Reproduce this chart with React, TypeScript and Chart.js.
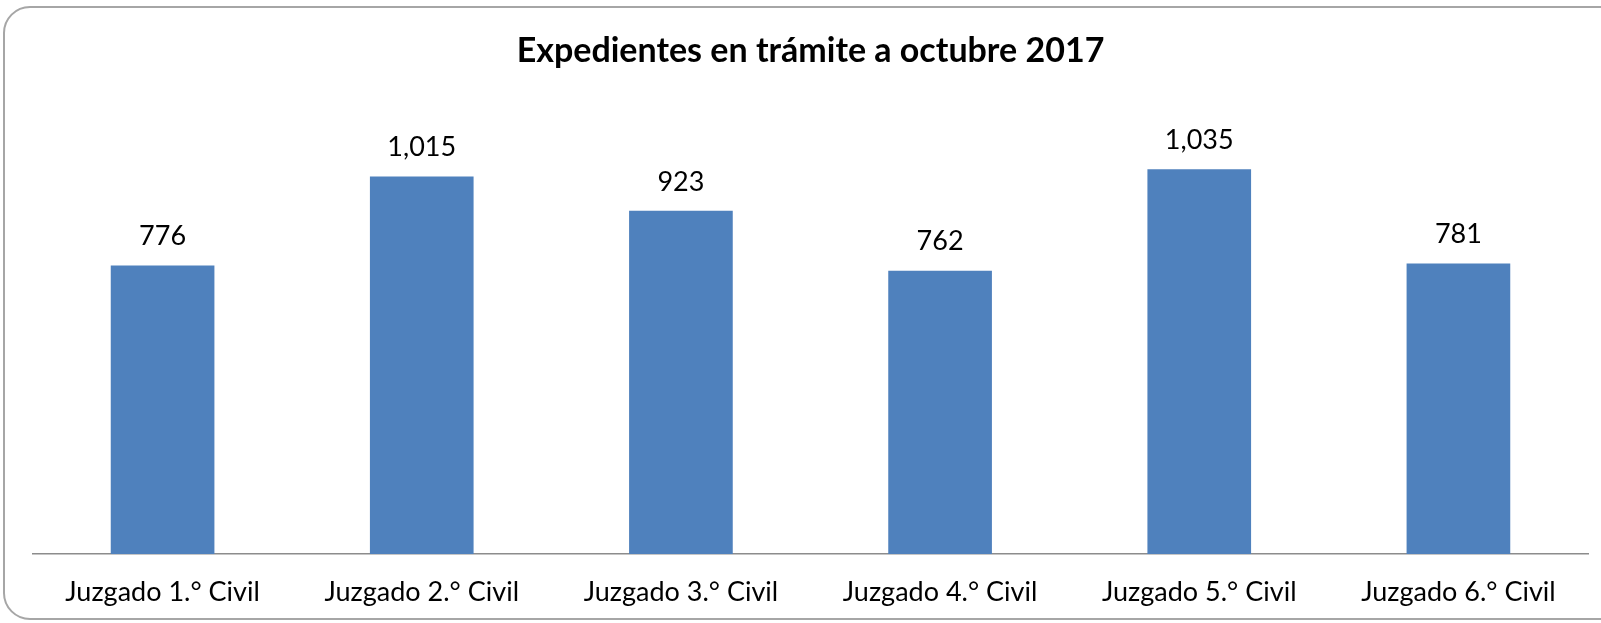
import React, { useEffect, useRef } from "react";
import { Chart, registerables } from "chart.js";

Chart.register(...registerables);

const categories = [
  "Juzgado 1.° Civil",
  "Juzgado 2.° Civil",
  "Juzgado 3.° Civil",
  "Juzgado 4.° Civil",
  "Juzgado 5.° Civil",
  "Juzgado 6.° Civil",
];
const expedientes = [776, 1015, 923, 762, 1035, 781];
const chartTitle = "Expedientes en trámite a octubre 2017";
const yMax = 1200;

const FONT = "Lato, 'Open Sans', sans-serif";

const framePlugin = {
  id: "frame",
  beforeDraw(chart: any) {
    const ctx = chart.ctx;
    const x = 4, y = 7, w = 1640, h = 612, r = 26;
    ctx.save();
    ctx.fillStyle = "#ffffff";
    ctx.fillRect(0, 0, chart.width, chart.height);
    ctx.beginPath();
    ctx.moveTo(x + r, y);
    ctx.lineTo(x + w - r, y);
    ctx.arcTo(x + w, y, x + w, y + r, r);
    ctx.lineTo(x + w, y + h - r);
    ctx.arcTo(x + w, y + h, x + w - r, y + h, r);
    ctx.lineTo(x + r, y + h);
    ctx.arcTo(x, y + h, x, y + h - r, r);
    ctx.lineTo(x, y + r);
    ctx.arcTo(x, y, x + r, y, r);
    ctx.closePath();
    ctx.strokeStyle = "#a6a6a6";
    ctx.lineWidth = 2;
    ctx.stroke();
    ctx.restore();
  },
};

const valueLabelPlugin = {
  id: "valueLabels",
  afterDatasetsDraw(chart: any) {
    const ctx = chart.ctx;
    const meta = chart.getDatasetMeta(0);
    const data = chart.data.datasets[0].data as number[];
    ctx.save();
    ctx.fillStyle = "#000000";
    ctx.font = `27px ${FONT}`;
    ctx.textAlign = "center";
    ctx.textBaseline = "middle";
    meta.data.forEach((bar: any, i: number) => {
      ctx.fillText(data[i].toLocaleString("en-US"), bar.x, bar.y - 29);
    });
    ctx.restore();
  },
};

export default function App() {
  const ref = useRef<HTMLCanvasElement | null>(null);
  useEffect(() => {
    document.body.style.margin = "0";
    if (!ref.current) return;
    const chart = new Chart(ref.current, {
      type: "bar",
      data: {
        labels: categories,
        datasets: [
          {
            data: expedientes,
            backgroundColor: "#4F81BD",
            borderWidth: 0,
            barPercentage: 0.4,
            categoryPercentage: 1,
          },
        ],
      },
      options: {
        animation: false,
        responsive: false,
        maintainAspectRatio: false,
        layout: { padding: { left: 33, right: 13, top: 0, bottom: 16 } },
        plugins: {
          legend: { display: false },
          tooltip: { enabled: false },
          title: {
            display: true,
            text: chartTitle,
            color: "#000000",
            font: { family: FONT, size: 34, weight: "bold", lineHeight: 1.2 },
            padding: { top: 31, bottom: 36 },
          },
        },
        scales: {
          x: {
            grid: { display: false, drawTicks: false },
            border: { display: true, color: "#8c8c8c", width: 1.5 },
            ticks: {
              color: "#000000",
              padding: 22,
              maxRotation: 0,
              font: { family: FONT, size: 27, lineHeight: 1.2 },
            },
            afterFit(scale: any) {
              scale.height = 53;
            },
          },
          y: {
            display: false,
            min: 0,
            max: yMax,
          },
        },
      },
      plugins: [framePlugin, valueLabelPlugin],
    });
    return () => chart.destroy();
  }, []);
  return <canvas ref={ref} width={1601} height={623} style={{ display: "block" }} />;
}
